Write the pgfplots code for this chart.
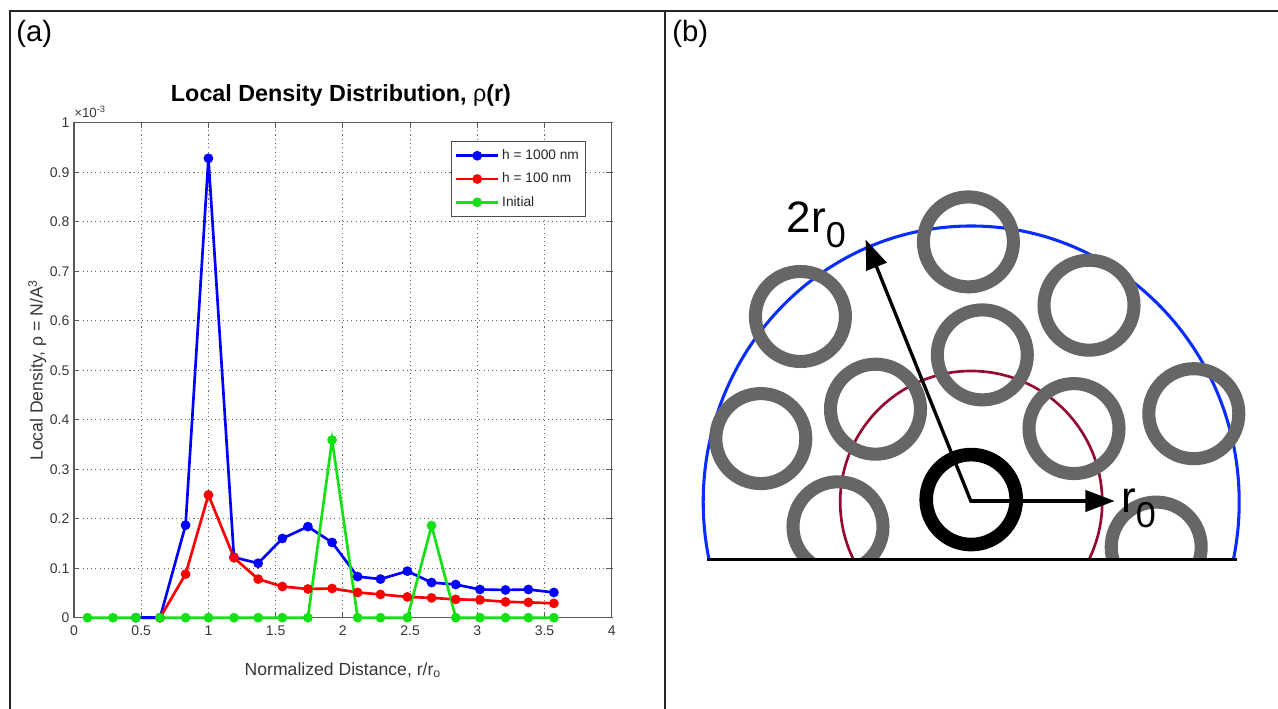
\documentclass[border=0pt]{standalone}
\usepackage{fontspec}
\setmainfont{Liberation Sans}
\usepackage{pgfplots}
\pgfplotsset{compat=1.18}
\usetikzlibrary{arrows.meta}

\definecolor{mblue}{RGB}{0,0,255}
\definecolor{mred}{RGB}{255,0,0}
\definecolor{mgreen}{RGB}{20,225,20}
\definecolor{ringgray}{RGB}{102,102,102}
\definecolor{arcblue}{RGB}{10,45,255}
\definecolor{arcred}{RGB}{150,10,50}
\definecolor{txtgray}{RGB}{55,55,55}

\begin{document}
\begin{tikzpicture}
\path[use as bounding box] (0,0) rectangle (958.5pt,531.75pt);

% ---------- panel (b) diagram, clipped at the base line (pixel units) ----------
\begin{axis}[at={(498.75pt,111.9pt)}, anchor=south west, scale only axis,
  width=459.75pt, height=419.85pt,
  xmin=665, xmax=1278, ymin=149.2, ymax=709, hide axis, clip=true, clip marker paths=true]
  \draw[arcblue, line width=2.3pt] (axis cs:971.2,207) ellipse [x radius=201pt, y radius=207pt];
  \draw[arcred, line width=2pt] (axis cs:971.2,207) circle [radius=98.25pt];
  \addplot[ringgray, only marks, mark=o, mark size=33.75pt, mark options={line width=9.8pt}]
    coordinates {(968.4,467.1) (800.4,392.5) (1089.0,403.8) (982.3,354.1) (875.5,299.8)
                 (760.8,270.4) (1074.0,280.4) (1193.8,295.3) (838.0,182.2) (1156.2,161.9)};
  \addplot[black, only marks, mark=o, mark size=33.75pt, mark options={line width=10.2pt}]
    coordinates {(971.2,209.4)};
  \addplot[black, line width=2.5pt, -{Triangle[length=22pt,width=16pt]}]
    coordinates {(971.2,207) (865.6,469.4)};
  \addplot[black, line width=2.5pt, -{Triangle[length=22pt,width=16pt]}]
    coordinates {(969.5,208) (1114.7,208)};
\end{axis}

% ---------- frame, base line and labels (pixel units) ----------
\begin{axis}[at={(0pt,0pt)}, anchor=south west, scale only axis,
  width=958.5pt, height=531.75pt,
  xmin=0, xmax=1278, ymin=0, ymax=709, hide axis, clip=false]
  \draw[black, line width=2.1pt] (axis cs:707.4,149.2) -- (axis cs:1237.3,149.2);
  \node[anchor=base west, inner sep=0pt, font=\fontsize{33}{36}\selectfont] at (axis cs:786.5,476)
    {2r\raisebox{-11pt}{\fontsize{27}{30}\selectfont 0}};
  \node[anchor=base west, inner sep=0pt, font=\fontsize{33}{36}\selectfont] at (axis cs:1121,196)
    {r\raisebox{-11pt}{\fontsize{27}{30}\selectfont 0}};
  \draw[black!85, line width=1.2pt] (axis cs:10,-5) -- (axis cs:10,698) -- (axis cs:1285,698);
  \draw[black!85, line width=1.2pt] (axis cs:665,-5) -- (axis cs:665,698);
  \node[anchor=base west, inner sep=0pt, font=\fontsize{22}{26}\selectfont] at (axis cs:16,667) {(a)};
  \node[anchor=base west, inner sep=0pt, font=\fontsize{22}{26}\selectfont] at (axis cs:672,667) {(b)};
\end{axis}

% ---------- panel (a) ----------
\begin{axis}[at={(55.5pt,68.475pt)}, anchor=south west, scale only axis,
  width=403.275pt, height=371.25pt,
  xmin=0, xmax=4, ymin=0, ymax=1, clip=false,
  xtick={0,0.5,1,1.5,2,2.5,3,3.5,4},
  xticklabels={0,0.5,1,1.5,2,2.5,3,3.5,4},
  ytick={0,0.1,0.2,0.3,0.4,0.5,0.6,0.7,0.8,0.9,1},
  yticklabels={0,0.1,0.2,0.3,0.4,0.5,0.6,0.7,0.8,0.9,1},
  /pgf/number format/assume math mode=true,
  grid=major,
  major grid style={black!60, line width=0.55pt, dash pattern=on 0.8pt off 2.4pt},
  tick align=inside, major tick length=4pt,
  axis line style={black!65, line width=0.9pt},
  every tick/.style={black!65, line width=0.7pt},
  tick label style={font=\fontsize{10.5}{12}\selectfont, text=txtgray},
  xticklabel style={yshift=-2.5pt},
  title style={at={(axis description cs:0.4965,1.0257)}, anchor=base, inner sep=0pt,
    font=\fontsize{17.5}{20}\selectfont\bfseries},
  title={Local Density Distribution, {\mdseries ρ}(r)},
  xlabel style={at={(axis description cs:0.5,-0.1158)}, anchor=base, inner sep=0pt,
    font=\fontsize{13.2}{15}\selectfont, text=txtgray},
  xlabel={Normalized Distance, r/r\textsubscript{o}},
  ylabel style={at={(axis description cs:-0.0582,0.5)}, anchor=base, inner sep=0pt,
    font=\fontsize{13.2}{15}\selectfont, text=txtgray},
  ylabel={Local Density, ρ = N/A\textsuperscript{3}},
  legend style={at={(0.952,0.962)}, anchor=north east, draw=black!70,
    font=\fontsize{10.3}{12}\selectfont, text=black!85, cells={anchor=west},
    row sep=4.5pt, inner xsep=3pt, inner ysep=4pt},
  legend image code/.code={\draw[mark repeat=2,mark phase=2,#1] plot coordinates {(0pt,0pt) (15.75pt,0pt) (31.5pt,0pt)};},
]
\addplot[mblue, line width=2pt, mark=*, mark size=2.6pt] coordinates {
 (0.46,0) (0.64,0) (0.83,0.187) (1.00,0.928) (1.19,0.122) (1.37,0.110) (1.55,0.160)
 (1.74,0.184) (1.92,0.152) (2.11,0.083) (2.28,0.078) (2.48,0.094) (2.66,0.071)
 (2.84,0.067) (3.02,0.057) (3.21,0.056) (3.38,0.057) (3.57,0.051)};
\addlegendentry{h = 1000 nm}
\addplot[mred, line width=2pt, mark=*, mark size=2.6pt] coordinates {
 (0.64,0) (0.83,0.088) (1.00,0.248) (1.19,0.121) (1.37,0.078) (1.55,0.063)
 (1.74,0.058) (1.92,0.059) (2.11,0.051) (2.28,0.047) (2.48,0.042) (2.66,0.040)
 (2.84,0.037) (3.02,0.036) (3.21,0.032) (3.38,0.031) (3.57,0.029)};
\addlegendentry{h = 100 nm}
\addplot[mgreen, line width=2pt, mark=*, mark size=2.6pt] coordinates {
 (0.10,0) (0.29,0) (0.46,0) (0.64,0) (0.83,0) (1.00,0) (1.19,0) (1.37,0) (1.55,0)
 (1.74,0) (1.92,0.359) (2.11,0) (2.28,0) (2.48,0) (2.66,0.186) (2.84,0) (3.02,0)
 (3.21,0) (3.38,0) (3.57,0)};
\addlegendentry{Initial}
\addplot[mblue, line width=2pt, forget plot] coordinates {(0.50,0) (0.60,0)};
\node[anchor=base west, inner sep=0pt, font=\fontsize{10}{11}\selectfont, text=txtgray]
  at (axis description cs:0,1.0101) {×10\textsuperscript{-3}};
\end{axis}
\end{tikzpicture}
\end{document}
